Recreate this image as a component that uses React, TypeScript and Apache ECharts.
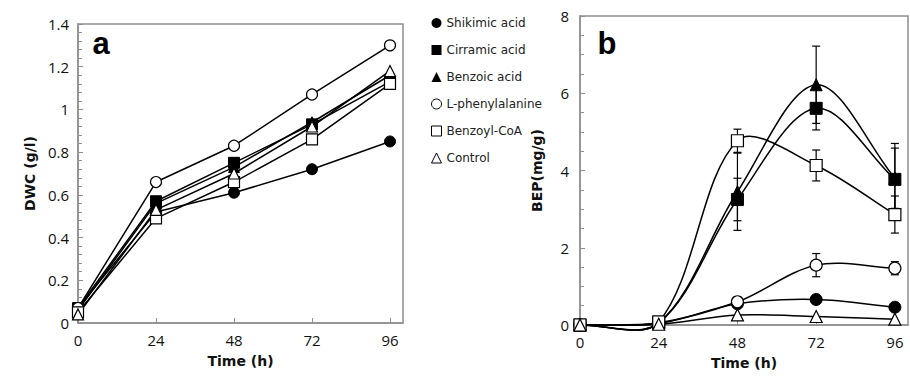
import React, { useEffect, useRef } from "react";
import * as echarts from "echarts";

const times = [0, 24, 48, 72, 96];
const seriesNames = [
  "Shikimic acid",
  "Cirramic acid",
  "Benzoic acid",
  "L-phenylalanine",
  "Benzoyl-CoA",
  "Control",
];
const symbols = ["circle", "rect", "triangle", "circle", "rect", "triangle"];
const filled = [true, true, true, false, false, false];

// Panel a: DWC (g/l)
const dwcShikimic = [0.07, 0.52, 0.61, 0.72, 0.85];
const dwcCinnamic = [0.07, 0.57, 0.75, 0.93, 1.13];
const dwcBenzoic = [0.06, 0.56, 0.73, 0.94, 1.16];
const dwcPhe = [0.07, 0.66, 0.83, 1.07, 1.3];
const dwcCoA = [0.05, 0.49, 0.66, 0.86, 1.12];
const dwcControl = [0.04, 0.53, 0.7, 0.92, 1.18];

// Panel b: BEP (mg/g)
const bepShikimic = [0, 0.04, 0.55, 0.66, 0.46];
const bepCinnamic = [0, 0.05, 3.25, 5.61, 3.77];
const bepBenzoic = [0, 0.05, 3.45, 6.22, 3.8];
const bepPhe = [0, 0.06, 0.6, 1.55, 1.47];
const bepCoA = [0, 0.08, 4.77, 4.13, 2.86];
const bepControl = [0, 0.02, 0.26, 0.22, 0.15];

// Error bars (±) for panel b
const errShikimic = [0, 0, 0.06, 0.08, 0.06];
const errCinnamic = [0, 0, 0.55, 0.56, 0.93];
const errBenzoic = [0, 0, 1.0, 1.0, 0.78];
const errPhe = [0, 0, 0.12, 0.3, 0.17];
const errCoA = [0, 0, 0.3, 0.4, 0.48];
const errControl = [0, 0, 0, 0, 0];

const dwcData = [dwcShikimic, dwcCinnamic, dwcBenzoic, dwcPhe, dwcCoA, dwcControl];
const bepData = [bepShikimic, bepCinnamic, bepBenzoic, bepPhe, bepCoA, bepControl];
const errData = [errShikimic, errCinnamic, errBenzoic, errPhe, errCoA, errControl];

const FONT = "'Open Sans', 'Noto Sans', sans-serif";
const WIDE = "'DejaVu Sans', Verdana, sans-serif";
const GRAY = "#8f8f8f";

export default function App() {
  const ref = useRef<HTMLDivElement>(null);
  useEffect(() => {
    if (!ref.current) return;
    const chart = echarts.init(ref.current, null, { renderer: "svg" });

    const itemStyleFor = (i: number) =>
      filled[i]
        ? { color: "#000", borderColor: "#000", borderWidth: 1 }
        : { color: "#fff", borderColor: "#000", borderWidth: 1.2 };

    const series: any[] = [];
    // Panel a: straight lines with markers
    seriesNames.forEach((name, i) => {
      series.push({
        name,
        type: "line",
        xAxisIndex: 0,
        yAxisIndex: 0,
        data: times.map((t, k) => [t, dwcData[i][k]]),
        symbol: symbols[i],
        symbolSize: 11,
        showSymbol: true,
        itemStyle: itemStyleFor(i),
        lineStyle: { color: "#000", width: 1.5 },
        z: 3,
      });
    });
    // Panel b: error bars
    seriesNames.forEach((name, i) => {
      const errPts = times
        .map((t, k) => [t, bepData[i][k] - errData[i][k], bepData[i][k] + errData[i][k]])
        .filter((_, k) => errData[i][k] > 0);
      series.push({
        name: "err-" + name,
        type: "custom",
        xAxisIndex: 1,
        yAxisIndex: 1,
        data: errPts,
        z: 2,
        renderItem: (params: any, api: any) => {
          const x = api.value(0);
          const lo = api.value(1);
          const hi = api.value(2);
          const p1 = api.coord([x, hi]);
          const p2 = api.coord([x, lo]);
          const w = 4;
          const st = { stroke: "#000", lineWidth: 1.2 };
          return {
            type: "group",
            children: [
              { type: "line", shape: { x1: p1[0], y1: p1[1], x2: p2[0], y2: p2[1] }, style: st },
              { type: "line", shape: { x1: p1[0] - w, y1: p1[1], x2: p1[0] + w, y2: p1[1] }, style: st },
              { type: "line", shape: { x1: p2[0] - w, y1: p2[1], x2: p2[0] + w, y2: p2[1] }, style: st },
            ],
          };
        },
      });
    });
    // Panel b: smoothed curves (length-weighted cardinal spline through the data points)
    seriesNames.forEach((name, i) => {
      const vals = bepData[i];
      series.push({
        name: "curve-" + name,
        type: "custom",
        xAxisIndex: 1,
        yAxisIndex: 1,
        data: times.map((t, k) => [t, vals[k]]),
        z: 2.5,
        renderItem: (params: any, api: any) => {
          const k = params.dataIndex;
          const n = times.length;
          if (k >= n - 1) return null;
          const P = (j: number) => {
            const jj = Math.max(0, Math.min(n - 1, j));
            return api.coord([times[jj], vals[jj]]);
          };
          const dist = (a: number[], b: number[]) => Math.hypot(b[0] - a[0], b[1] - a[1]);
          const p0 = P(k - 1);
          const p1 = P(k);
          const p2 = P(k + 1);
          const p3 = P(k + 2);
          const f = 1 / 3;
          const dA = dist(p0, p1);
          const dB = dist(p1, p2);
          const rOut = dA + dB > 0 ? dB / (dA + dB) : 0.5;
          const dC = dist(p2, p3);
          const rIn = dB + dC > 0 ? dB / (dB + dC) : 0.5;
          return {
            type: "bezierCurve",
            shape: {
              x1: p1[0],
              y1: p1[1],
              cpx1: p1[0] + (p2[0] - p0[0]) * f * rOut,
              cpy1: p1[1] + (p2[1] - p0[1]) * f * rOut,
              cpx2: p2[0] - (p3[0] - p1[0]) * f * rIn,
              cpy2: p2[1] - (p3[1] - p1[1]) * f * rIn,
              x2: p2[0],
              y2: p2[1],
            },
            style: { stroke: "#000", lineWidth: 1.5, fill: "none" },
          };
        },
      });
    });
    // Panel b: markers
    seriesNames.forEach((name, i) => {
      series.push({
        name,
        type: "line",
        xAxisIndex: 1,
        yAxisIndex: 1,
        data: times.map((t, k) => [t, bepData[i][k]]),
        symbol: symbols[i],
        symbolSize: 12,
        showSymbol: true,
        itemStyle: itemStyleFor(i),
        lineStyle: { color: "#000", width: 0, opacity: 0 },
        z: 3,
      });
    });

    const axisCommon = {
      axisLine: { show: true, lineStyle: { color: GRAY, width: 1.5 } },
      axisTick: { show: true, inside: true, length: 5, lineStyle: { color: GRAY } },
      splitLine: { show: false },
    };
    const nameStyle = { fontSize: 14, fontWeight: "bold", color: "#111", fontFamily: WIDE };
    const tickLabel = { fontSize: 15, color: "#111", fontFamily: FONT };

    chart.setOption({
      animation: false,
      backgroundColor: "#fff",
      grid: [
        { left: 78, top: 24, width: 325, height: 299, show: true, borderColor: GRAY, borderWidth: 1.5 },
        { left: 580, top: 16, width: 328, height: 309, show: true, borderColor: GRAY, borderWidth: 1.5 },
      ],
      xAxis: [0, 1].map((g) => ({
        type: "value",
        gridIndex: g,
        min: 0,
        max: 100,
        interval: 24,
        ...axisCommon,
        axisLabel: { ...tickLabel, margin: 9, showMaxLabel: false },
        name: "Time (h)",
        nameLocation: "middle",
        nameGap: 31,
        nameTextStyle: nameStyle,
      })),
      yAxis: [
        {
          type: "value",
          gridIndex: 0,
          min: 0,
          max: 1.4,
          interval: 0.2,
          ...axisCommon,
          minorTick: { show: true, splitNumber: 5, length: 4, lineStyle: { color: GRAY } },
          axisLabel: { ...tickLabel, margin: 9 },
          name: "DWC (g/l)",
          nameLocation: "middle",
          nameRotate: 90,
          nameGap: 41,
          nameTextStyle: nameStyle,
        },
        {
          type: "value",
          gridIndex: 1,
          min: 0,
          max: 8,
          interval: 2,
          ...axisCommon,
          minorTick: { show: true, splitNumber: 4, length: 4, lineStyle: { color: GRAY } },
          axisLabel: { ...tickLabel, margin: 11 },
          name: "BEP(mg/g)",
          nameLocation: "middle",
          nameRotate: 90,
          nameGap: 36,
          nameTextStyle: nameStyle,
        },
      ],
      legend: {
        orient: "vertical",
        left: 431,
        top: 17,
        padding: 0,
        itemGap: 15,
        itemWidth: 10,
        itemHeight: 10,
        selectedMode: false,
        textStyle: { fontSize: 12, lineHeight: 12, color: "#222", fontFamily: WIDE },
        data: seriesNames.map((name, i) => ({
          name,
          icon: symbols[i],
          itemStyle: filled[i]
            ? { color: "#000", borderColor: "#000", borderWidth: 0 }
            : { color: "#fff", borderColor: "#000", borderWidth: 1 },
        })),
      },
      graphic: [
        {
          type: "text",
          x: 101,
          y: 43,
          style: { text: "a", font: "bold 31px 'Liberation Sans', Arial, sans-serif", fill: "#000", align: "center", verticalAlign: "middle" },
        },
        {
          type: "text",
          x: 607,
          y: 43,
          style: { text: "b", font: "bold 31px 'Liberation Sans', Arial, sans-serif", fill: "#000", align: "center", verticalAlign: "middle" },
        },
      ],
      series,
    });
    return () => chart.dispose();
  }, []);
  return (
    <div
      ref={ref}
      style={{ position: "fixed", left: 0, top: 0, width: 910, height: 378, background: "#fff" }}
    />
  );
}
